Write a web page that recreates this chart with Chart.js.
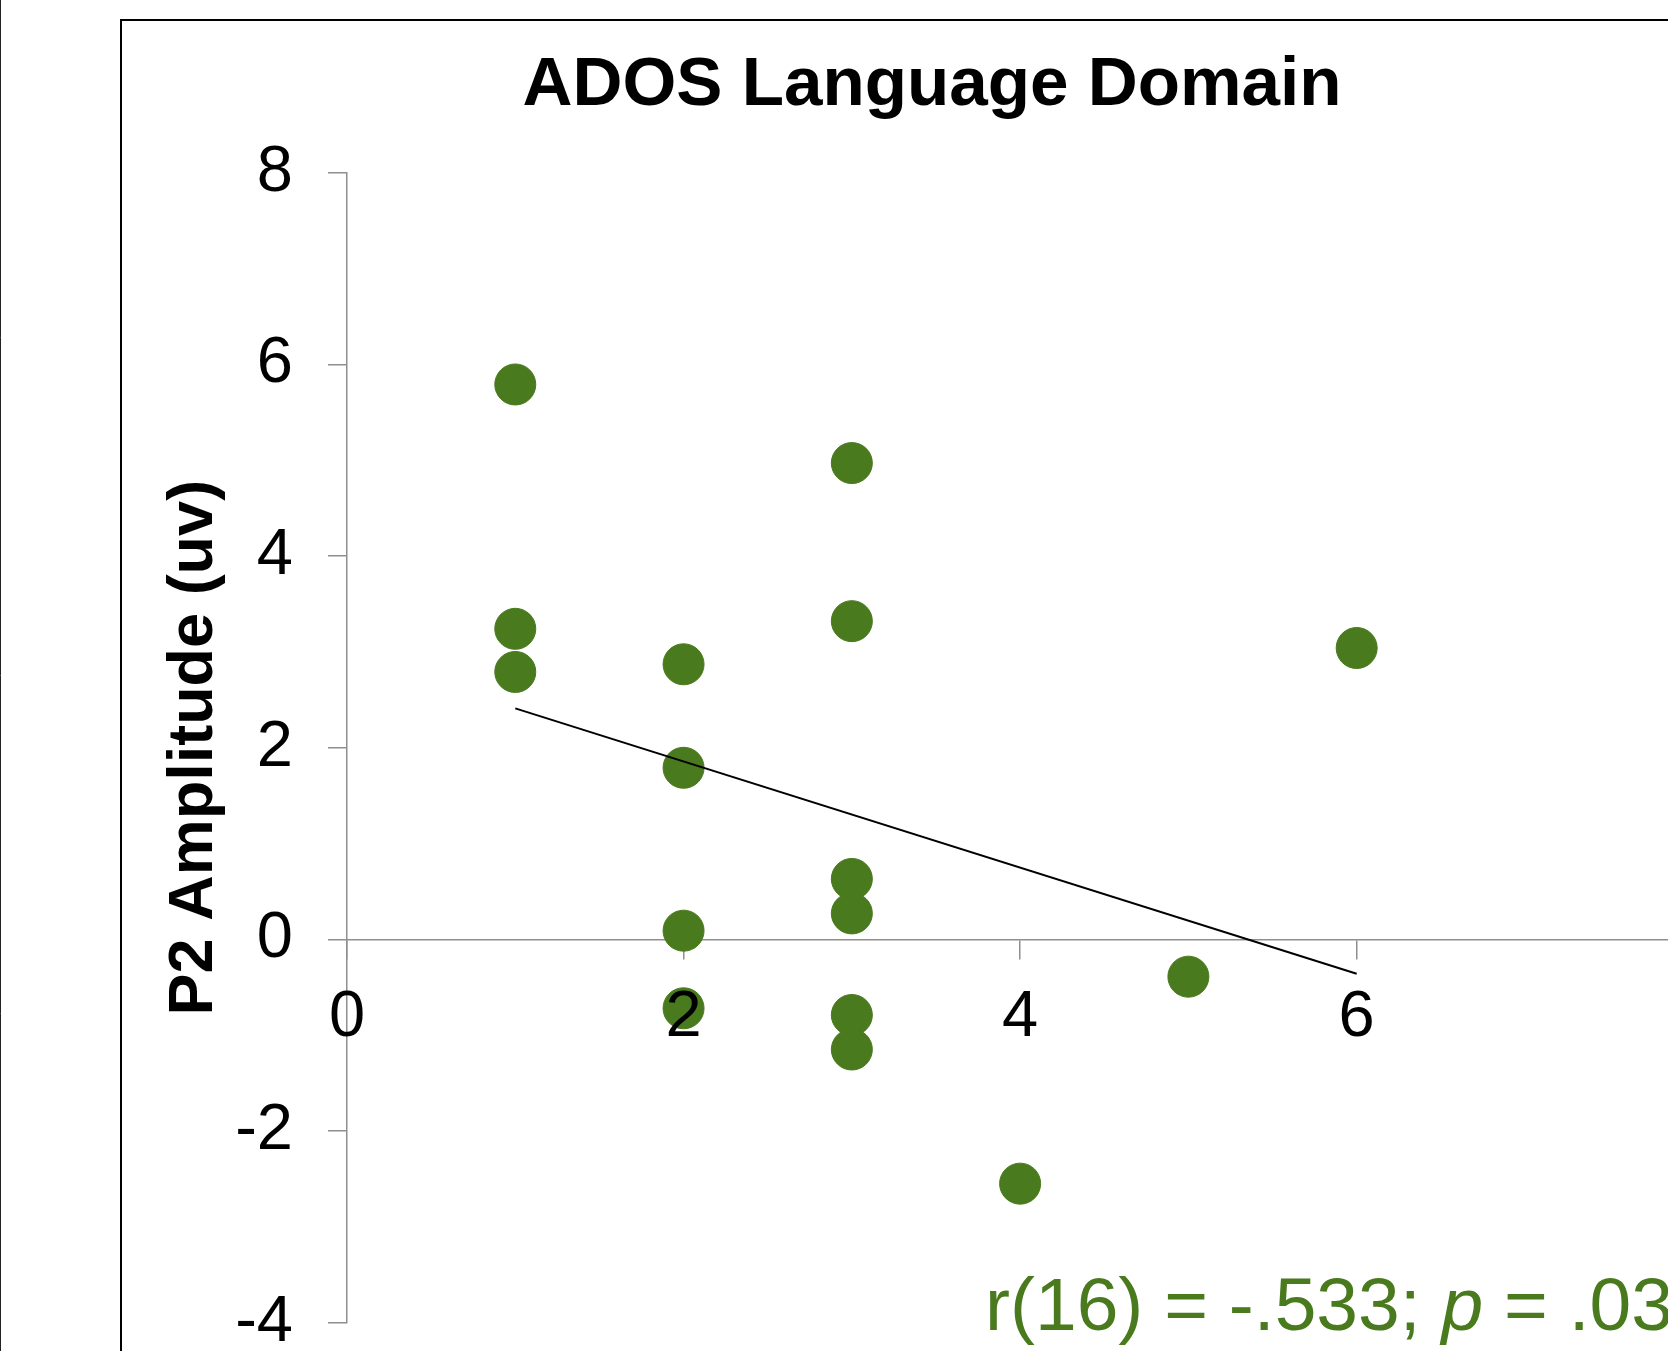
<!DOCTYPE html>
<html>
<head>
<meta charset="utf-8">
<title>ADOS Language Domain</title>
<script src="https://cdn.jsdelivr.net/npm/chart.js@4.4.1/dist/chart.umd.min.js"></script>
<style>
  html, body { margin: 0; padding: 0; background: #fff; overflow: hidden; }
  canvas { display: block; }
</style>
</head>
<body>
<canvas id="chart" width="1668" height="1351"></canvas>
<script>
// values
const adosScores = [1, 1, 1, 2, 2, 2, 2, 3, 3, 3, 3, 3, 3, 4, 5, 6];
const p2Amplitudes = [5.79, 3.24, 2.79, 2.87, 1.79, 0.09, -0.72, 4.97, 3.32, 0.63, 0.27, -0.79, -1.15, -2.55, -0.39, 3.04];
const fitLineX = [1, 6];
const fitLineY = [2.41, -0.36];
const xTicks = [0, 2, 4, 6];
const yTicks = [-4, -2, 0, 2, 4, 6, 8];

const chartTitle = "ADOS Language Domain";
const yAxisTitle = "P2 Amplitude (uv)";
const statParts = [
    { text: "r(16) = -.533; ", italic: false },
    { text: "p", italic: true },
    { text: " = .03", italic: false },
];

const green = "#4a7a1e";
const axisGray = "#8f8f8f";
const fontFamily = '"Liberation Sans", Arial, sans-serif';

const points = adosScores.map((x, i) => ({ x: x, y: p2Amplitudes[i] }));
const fitLine = fitLineX.map((x, i) => ({ x: x, y: fitLineY[i] }));

// page frame, title and the r/p note are drawn straight onto the canvas
const framePlugin = {
    id: "frame",
    beforeDraw(chart) {
        const ctx = chart.ctx;
        ctx.save();
        ctx.fillStyle = "#fff";
        ctx.fillRect(0, 0, chart.width, chart.height);
        ctx.strokeStyle = "#222";
        ctx.lineWidth = 1;
        ctx.beginPath();
        ctx.moveTo(0.5, 0);
        ctx.lineTo(0.5, chart.height);
        ctx.stroke();
        ctx.strokeStyle = "#000";
        ctx.lineWidth = 2;
        ctx.strokeRect(121, 20, 3000, 3000);
        ctx.restore();
    },
    afterDraw(chart) {
        const ctx = chart.ctx;
        ctx.save();
        ctx.fillStyle = "#000";
        ctx.font = "bold 69.2px " + fontFamily;
        ctx.textAlign = "center";
        ctx.textBaseline = "alphabetic";
        ctx.fillText(chartTitle, 932, 105);

        ctx.fillStyle = green;
        ctx.textAlign = "left";
        let x = 985;
        statParts.forEach(part => {
            ctx.font = (part.italic ? "italic " : "") + "75px " + fontFamily;
            ctx.fillText(part.text, x, 1329.5);
            x += ctx.measureText(part.text).width;
        });
        ctx.restore();
    },
};

const setTicks = values => scale => {
    scale.ticks = values.map(v => ({ value: v }));
};

// keep label overhang from shrinking the plot area
const noOverhang = width => scale => {
    scale.paddingTop = 0;
    scale.paddingBottom = 0;
    scale.paddingLeft = 0;
    scale.paddingRight = 0;
    if (width) scale.width = width;
};

new Chart(document.getElementById("chart"), {
    type: "scatter",
    data: {
        datasets: [
            {
                label: "Linear fit",
                data: fitLine,
                showLine: true,
                borderColor: "#000",
                borderWidth: 2,
                pointRadius: 0,
                order: 0,
            },
            {
                label: "P2 Amplitude",
                data: points,
                backgroundColor: green,
                borderColor: green,
                borderWidth: 1,
                pointRadius: 20.5,
                order: 1,
            },
        ],
    },
    options: {
        responsive: false,
        animation: false,
        events: [],
        layout: {
            autoPadding: false,
            padding: { left: 0, right: 0, top: 172.7, bottom: 28.4 },
        },
        plugins: {
            legend: { display: false },
            tooltip: { enabled: false },
        },
        scales: {
            x: {
                type: "linear",
                position: { y: 0 },
                min: 0,
                max: 7.85,
                afterBuildTicks: setTicks(xTicks),
                afterFit: noOverhang(),
                border: { display: true, color: axisGray, width: 1.5 },
                grid: {
                    drawOnChartArea: false,
                    drawTicks: true,
                    tickLength: 19,
                    color: axisGray,
                    lineWidth: 1.5,
                },
                // labels sit above the dots, the axis line below them
                ticks: {
                    z: 1,
                    padding: 20.5,
                    color: "#000",
                    font: { family: fontFamily, size: 65, lineHeight: 1.2 },
                },
            },
            y: {
                type: "linear",
                position: "left",
                min: -4,
                max: 8,
                afterBuildTicks: setTicks(yTicks),
                afterFit: noOverhang(347),
                border: { display: true, color: axisGray, width: 1.5 },
                grid: {
                    drawOnChartArea: false,
                    drawTicks: true,
                    tickLength: 19,
                    color: axisGray,
                    lineWidth: 1.5,
                },
                ticks: {
                    padding: 35,
                    color: "#000",
                    font: { family: fontFamily, size: 65, lineHeight: 0.8 },
                },
                title: {
                    display: true,
                    text: yAxisTitle,
                    color: "#000",
                    padding: { top: 157, bottom: 0 },
                    font: { family: fontFamily, size: 63, weight: "bold", lineHeight: 1.2 },
                },
            },
        },
    },
    plugins: [framePlugin],
});
</script>
</body>
</html>
